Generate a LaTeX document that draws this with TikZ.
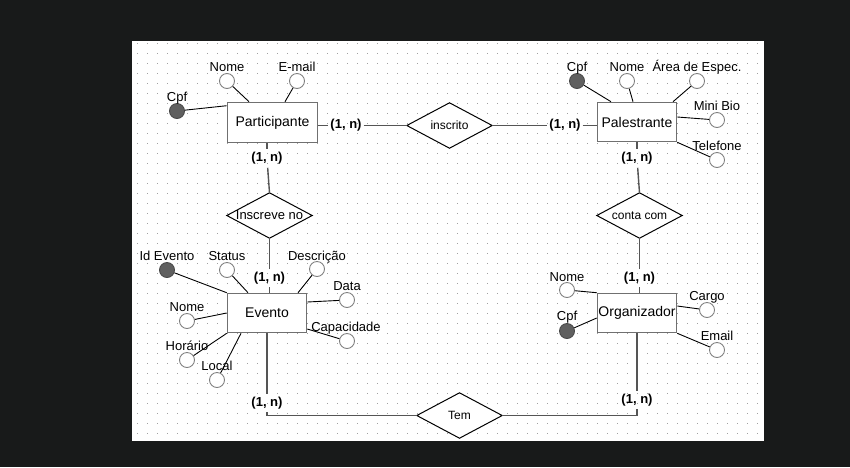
\documentclass[tikz,border=0pt]{standalone}
\usepackage{fontspec}
\setmainfont{Liberation Sans}
\definecolor{bgc}{HTML}{181A1A}
\definecolor{dotc}{HTML}{A0A0A0}
\definecolor{entc}{HTML}{707070}
\definecolor{attc}{HTML}{808080}
\definecolor{keyc}{HTML}{606060}
\definecolor{keyd}{HTML}{4A4A4A}
\definecolor{linec}{HTML}{555555}
\begin{document}
\begin{tikzpicture}[x=1pt,y=-1pt,
  ent/.style={draw=entc, fill=white, line width=1.6pt, minimum width=79pt, minimum height=39pt, inner sep=0pt, font=\fontsize{14}{16}\selectfont},
  rel/.style={minimum width=85pt, minimum height=45pt, inner sep=0pt},
  rtxt/.style={inner sep=0pt, font=\fontsize{12}{14}\selectfont},
  att/.style={circle, draw=attc, fill=white, line width=0.9pt, minimum size=15pt, inner sep=0pt},
  key/.style={circle, draw=keyd, fill=keyc, line width=0.9pt, minimum size=15pt, inner sep=0pt},
  atxt/.style={font=\fontsize{13}{15}\selectfont, inner sep=0pt, anchor=base},
  card/.style={font=\bfseries\fontsize{13}{15}\selectfont, inner xsep=2pt, inner ysep=3pt},
  aline/.style={draw=black, line width=0.9pt},
  cline/.style={draw=linec, line width=1.4pt},
  dline/.style={draw=black, line width=1pt, fill=white, line join=miter}
]
\useasboundingbox (0,0) rectangle (850,467);
\fill[bgc] (0,0) rectangle (850,467);
\fill[white] (132,41) rectangle (764,441);
\foreach \i in {0,...,62}{\foreach \j in {0,...,39}{\fill[dotc] ({136.5+10*\i},{42.5+10*\j}) rectangle ++(1,1);}}

% entities
\node[ent, minimum width=90pt, minimum height=40pt] (part) at (272.5,122.5) {Participante};
\node[ent] (pal) at (637,122) {Palestrante};
\node[ent] (ev) at (267,313) {Evento};
\node[ent] (org) at (637,313) {Organizador};

% relationships
\node[rel] (insc) at (449.5,125.5) {};
\draw[dline] (insc.west) -- (insc.north) -- (insc.east) -- (insc.south) -- cycle;
\node[rtxt] (inscT) at (insc.center) {inscrito};
\node[rel] (insno) at (269.5,215.5) {};
\draw[dline] (insno.west) -- (insno.north) -- (insno.east) -- (insno.south) -- cycle;
\node[rtxt, font=\fontsize{13}{15}\selectfont] (insnoT) at (insno.center) {Inscreve no};
\node[rel] (cc) at (639.5,215.5) {};
\draw[dline] (cc.west) -- (cc.north) -- (cc.east) -- (cc.south) -- cycle;
\node[rtxt] (ccT) at (cc.center) {conta com};
\node[rel] (tem) at (459.5,415.5) {};
\draw[dline] (tem.west) -- (tem.north) -- (tem.east) -- (tem.south) -- cycle;
\node[rtxt] (temT) at (tem.center) {Tem};

% cardinalities
\node[card] (l1) at (346,125.5) {(1, n)};
\node[card] (l8) at (565,125.5) {(1, n)};
\node[card] (l2) at (267,158.5) {(1, n)};
\node[card] (l3) at (269.5,278) {(1, n)};
\node[card] (l4) at (637,158.5) {(1, n)};
\node[card] (l5) at (639.5,278) {(1, n)};
\node[card] (l6) at (637,400) {(1, n)};
\node[card] (l7) at (267,403) {(1, n)};
\coordinate (cl) at (267,415.5);
\coordinate (cr) at (637,415.5);

% relationship connectors
\draw[cline] ([yshift=-3pt]part.east) -- (l1);
\draw[cline] (l1) -- (insc.west);
\draw[cline] (insc.east) -- (l8);
\draw[cline] (l8) -- ([yshift=-3.5pt]pal.west);
\draw[cline] ([xshift=-5.5pt]part.south) -- (l2);
\draw[cline] (l2) -- (insno.north);
\draw[cline] (insno.south) -- (l3);
\draw[cline] (l3) -- ([xshift=2.5pt]ev.north);
\draw[cline] (pal.south) -- (l4);
\draw[cline] (l4) -- (cc.north);
\draw[cline] (cc.south) -- (l5);
\draw[cline] (l5) -- ([xshift=2.5pt]org.north);
\draw[cline] (org.south) -- (l6);
\draw[cline] (l6) -- (cr) -- (tem.east);
\draw[cline] (ev.south) -- (l7);
\draw[cline] (l7) -- (cl) -- (tem.west);

% Participante attributes
\node[key] (pcpf) at (177,111) {};
\node[atxt] (pcpfT) at (177,101) {Cpf};
\node[att] (pnome) at (227,81) {};
\node[atxt] (pnomeT) at (227,71) {Nome};
\node[att] (pmail) at (297,81) {};
\node[atxt] (pmailT) at (297,71) {E-mail};
\draw[aline] (pcpf) -- ([yshift=-4pt]part.north west);
\draw[aline] (pnome) -- ([xshift=-23.5pt]part.north);
\draw[aline] (pmail) -- ([xshift=12.5pt]part.north);

% Palestrante attributes
\node[key] (lcpf) at (577,81) {};
\node[atxt] (lcpfT) at (577,71) {Cpf};
\node[att] (lnome) at (627,81) {};
\node[atxt] (lnomeT) at (627,71) {Nome};
\node[att] (larea) at (697,81) {};
\node[atxt] (lareaT) at (697,71) {Área de Espec.};
\node[att] (lbio) at (717,120) {};
\node[atxt] (lbioT) at (717,110) {Mini Bio};
\node[att] (ltel) at (717,160) {};
\node[atxt] (ltelT) at (717,150) {Telefone};
\draw[aline] (lcpf) -- ([xshift=-26pt]pal.north);
\draw[aline] (lnome) -- ([xshift=-4pt]pal.north);
\draw[aline] (larea) -- ([xshift=36pt]pal.north);
\draw[aline] (lbio) -- ([yshift=5pt]pal.east);
\draw[aline] (ltel) -- (pal.south east);

% Evento attributes
\node[key] (eid) at (167,270) {};
\node[atxt] (eidT) at (167,260) {Id Evento};
\node[att] (est) at (227,270) {};
\node[atxt] (estT) at (227,260) {Status};
\node[att] (edesc) at (317,269) {};
\node[atxt] (edescT) at (317,260) {Descrição};
\node[att] (edata) at (347,300) {};
\node[atxt] (edataT) at (347,290) {Data};
\node[att] (ecap) at (347,341) {};
\node[atxt] (ecapT) at (346,331) {Capacidade};
\node[att] (enome) at (187,321) {};
\node[atxt] (enomeT) at (187,311) {Nome};
\node[att] (ehor) at (187,360) {};
\node[atxt] (ehorT) at (187,350.5) {Horário};
\node[att] (eloc) at (217,380) {};
\node[atxt] (elocT) at (217,370.5) {Local};
\draw[aline] (eid) -- (ev.north west);
\draw[aline] (est) -- ([xshift=-19pt]ev.north);
\draw[aline] (edesc) -- ([xshift=31pt]ev.north);
\draw[aline] (edata) -- ([yshift=11pt]ev.east);
\draw[aline] (ecap) -- ([yshift=-16pt]ev.east);
\draw[aline] (enome) -- (ev.west);
\draw[aline] (ehor) -- (ev.south west);
\draw[aline] (eloc) -- ([xshift=-26pt]ev.south);

% Organizador attributes
\node[att] (onome) at (567,290) {};
\node[atxt] (onomeT) at (567,281) {Nome};
\node[key] (ocpf) at (567,331) {};
\node[atxt] (ocpfT) at (567,320.5) {Cpf};
\node[att] (ocargo) at (707,310) {};
\node[atxt] (ocargoT) at (707,300.5) {Cargo};
\node[att] (oemail) at (717,350) {};
\node[atxt] (oemailT) at (717,340.5) {Email};
\draw[aline] (onome) -- (org.north west);
\draw[aline] (ocpf) -- ([yshift=-5pt]org.west);
\draw[aline] (ocargo) -- ([yshift=7pt]org.east);
\draw[aline] (oemail) -- (org.south east);
\end{tikzpicture}
\end{document}
